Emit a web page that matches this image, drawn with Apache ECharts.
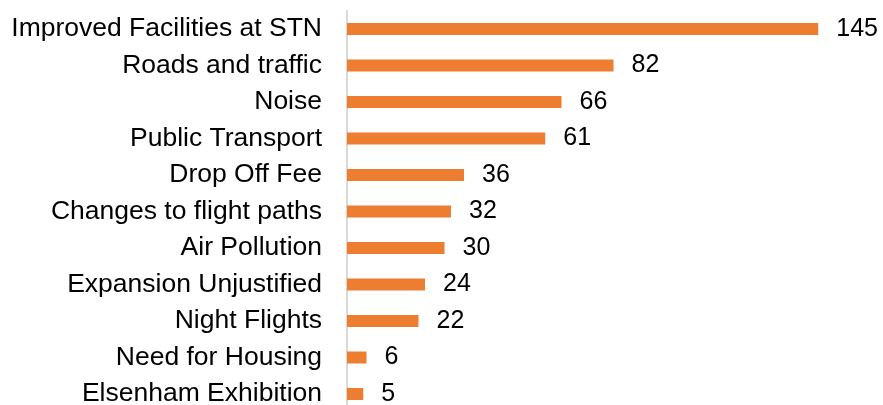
<!DOCTYPE html>
<html>
<head>
<meta charset="utf-8">
<script src="https://cdn.jsdelivr.net/npm/echarts@6/dist/echarts.min.js"></script>
<style>
  html, body { margin: 0; padding: 0; background: #fff; overflow: hidden; }
  /* taller than the window: the last row's band runs past the bottom edge */
  #chart { width: 883px; height: 413px; }
</style>
</head>
<body>
<div id="chart"></div>
<script>
const categories = [
  'Improved Facilities at STN',
  'Roads and traffic',
  'Noise',
  'Public Transport',
  'Drop Off Fee',
  'Changes to flight paths',
  'Air Pollution',
  'Expansion Unjustified',
  'Night Flights',
  'Need for Housing',
  'Elsenham Exhibition'
];
const counts = [145, 82, 66, 61, 36, 32, 30, 24, 22, 6, 5];

const font = '"Liberation Sans", Arial, sans-serif';
const myChart = echarts.init(document.getElementById('chart'));
myChart.setOption({
  animation: false,
  grid: { left: 347, top: 10.75, width: 520, height: 401.5 },
  xAxis: {
    type: 'value',
    min: 0,
    max: 160,
    show: false
  },
  yAxis: {
    type: 'category',
    data: categories,
    inverse: true,
    axisLine: { show: true, lineStyle: { color: '#d9d9d9', width: 2 } },
    axisTick: { show: false },
    axisLabel: {
      margin: 25,
      color: '#000',
      fontSize: 26.5,
      fontFamily: font
    }
  },
  series: [
    {
      type: 'bar',
      data: counts,
      barWidth: 12,
      itemStyle: { color: '#ED7D31' },
      label: {
        show: true,
        position: 'right',
        distance: 18,
        color: '#000',
        fontSize: 25,
        fontFamily: font
      }
    }
  ]
});
</script>
</body>
</html>
